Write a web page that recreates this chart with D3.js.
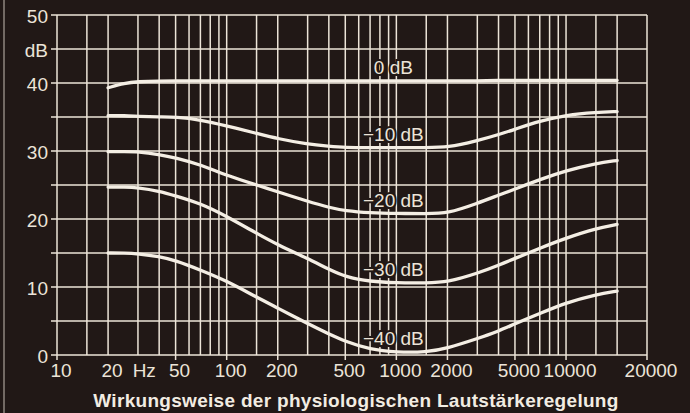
<!DOCTYPE html>
<html>
<head>
<meta charset="utf-8">
<script src="https://cdn.jsdelivr.net/npm/d3@7"></script>
<style>
  html, body { margin: 0; padding: 0; background: #211816; }
  svg { display: block; }
</style>
</head>
<body>
<svg id="chart" width="690" height="413"></svg>
<script>
// Frequencies (Hz) at which the loudness-compensation curves are sampled
const freqs = [20, 25, 30, 40, 50, 70, 100, 150, 200, 300, 400, 500, 700,
               1000, 1500, 2000, 3000, 4000, 5000, 7000, 10000, 15000, 20000];

// Response (dB) for each volume-control setting
const curve0dB  = [39.3, 40.0, 40.2, 40.3, 40.3, 40.3, 40.3, 40.3, 40.3, 40.3, 40.3, 40.3, 40.3,
                   40.3, 40.3, 40.3, 40.3, 40.4, 40.4, 40.4, 40.4, 40.4, 40.4];
const curve10dB = [35.2, 35.2, 35.1, 35.0, 35.0, 34.6, 33.7, 32.6, 31.8, 31.0, 30.7, 30.5, 30.5,
                   30.5, 30.5, 30.5, 31.5, 32.4, 33.2, 34.4, 35.3, 35.7, 35.8];
const curve20dB = [29.9, 29.9, 29.9, 29.5, 29.0, 28.0, 26.4, 25.0, 24.0, 22.6, 21.7, 21.2, 20.9,
                   20.8, 20.8, 20.8, 22.3, 23.5, 24.4, 25.8, 27.1, 28.2, 28.6];
const curve30dB = [24.7, 24.7, 24.6, 24.1, 23.4, 22.3, 20.4, 17.9, 16.2, 14.2, 12.6, 11.5, 10.8,
                   10.6, 10.6, 10.7, 12.0, 13.2, 14.2, 15.7, 17.2, 18.6, 19.2];
const curve40dB = [15.0, 15.0, 14.9, 14.5, 13.9, 12.5, 10.9, 8.5, 6.9, 4.6, 3.1, 2.0, 0.8,
                   0.4, 0.4, 1.0, 2.4, 3.5, 4.6, 6.1, 7.7, 8.9, 9.4];

const curves = [curve0dB, curve10dB, curve20dB, curve30dB, curve40dB];
const curveLabels = ["0 dB", "\u221210 dB", "\u221220 dB", "\u221230 dB", "\u221240 dB"];
const labelFreq = 1000;

// Axis ticks and labels
const yTickValues = [0, 10, 20, 30, 40, 45, 50];
const yTickLabels = ["0", "10", "20", "30", "40", "dB", "50"];
const xTickValues = [10, 20, 50, 100, 200, 500, 1000, 2000, 5000, 10000, 30000];
const xTickLabels = ["10", "20", "50", "100", "200", "500", "1000", "2000", "5000", "10000", "20000"];
const yGridValues = [0, 5, 10, 15, 20, 25, 30, 35, 40, 45, 50];
const xGridValues = [10, 15, 20, 30, 40, 50, 60, 70, 80, 90,
                     100, 150, 200, 300, 400, 500, 600, 700, 800, 900,
                     1000, 1500, 2000, 3000, 4000, 5000, 6000, 7000, 8000, 9000,
                     10000, 15000, 20000, 30000];
const title = "Wirkungsweise der physiologischen Lautstärkeregelung";

const BG = "#211816";
const INK = "#ece4d8";
const FONT = "'Liberation Sans', Arial, Helvetica, sans-serif";

const svg = d3.select("#chart");
svg.append("rect").attr("width", 690).attr("height", 413).attr("fill", BG);

// page edge
svg.append("line").attr("x1", 4).attr("x2", 4).attr("y1", 0).attr("y2", 413)
  .attr("stroke", "#d8cfc4").attr("stroke-width", 1.5).attr("opacity", 0.6);

const x = d3.scaleLog().domain([10, 30000]).range([57, 647]);
const y = d3.scaleLinear().domain([0, 50]).range([355, 15]);

const grid = svg.append("g").attr("stroke", INK).attr("stroke-width", 1.5);

// horizontal grid, extending left as tick marks
grid.selectAll("line.h").data(yGridValues).join("line")
  .attr("class", "h")
  .attr("x1", 51).attr("x2", x.range()[1])
  .attr("y1", d => y(d)).attr("y2", d => y(d));

// vertical grid
grid.selectAll("line.v").data(xGridValues).join("line")
  .attr("class", "v")
  .attr("x1", d => x(d)).attr("x2", d => x(d))
  .attr("y1", y(50)).attr("y2", y(0));

// tick marks below the baseline
grid.selectAll("line.t").data(xTickValues.filter(d => d !== 20)).join("line")
  .attr("class", "t")
  .attr("x1", d => x(d)).attr("x2", d => x(d))
  .attr("y1", y(0)).attr("y2", y(0) + 5);

// y labels
svg.append("g").selectAll("text").data(yTickValues).join("text")
  .attr("x", 48).attr("y", d => y(d)).attr("dy", "0.43em")
  .attr("text-anchor", "end")
  .attr("fill", INK).attr("font-family", FONT).attr("font-size", 19)
  .text((d, i) => yTickLabels[i]);

// x labels
const xl = svg.append("g");
xl.selectAll("text").data(xTickValues).join("text")
  .attr("x", d => x(d) + 4).attr("y", 377)
  .attr("text-anchor", "middle")
  .attr("fill", INK).attr("font-family", FONT).attr("font-size", 19)
  .text((d, i) => xTickLabels[i]);
const hzRef = xl.selectAll("text").filter(d => d === 20).node().getBBox();
xl.append("text").attr("x", hzRef.x + hzRef.width + 10).attr("y", 377)
  .attr("fill", INK).attr("font-family", FONT).attr("font-size", 19).text("Hz");

// curves
const line = d3.line()
  .x((d, i) => x(freqs[i]))
  .y(d => y(d))
  .curve(d3.curveBasis);

svg.append("g").selectAll("path").data(curves).join("path")
  .attr("d", line)
  .attr("fill", "none")
  .attr("stroke", "#f4eee4")
  .attr("stroke-width", 3.3)
  .attr("stroke-linecap", "round");

// curve labels
const li = freqs.indexOf(labelFreq);
svg.append("g").selectAll("text").data(curves).join("text")
  .attr("x", x(labelFreq) - 3)
  .attr("y", d => y(d[li]) - 7)
  .attr("text-anchor", "middle")
  .attr("fill", INK).attr("font-family", FONT).attr("font-size", 19)
  .attr("stroke", BG).attr("stroke-width", 4).attr("paint-order", "stroke")
  .text((d, i) => curveLabels[i]);

// title
svg.append("text")
  .attr("x", 356).attr("y", 407)
  .attr("text-anchor", "middle")
  .attr("fill", "#f2ece2").attr("font-family", FONT)
  .attr("font-size", 19).attr("font-weight", "bold")
  .attr("letter-spacing", 0.3)
  .text(title);
</script>
</body>
</html>
